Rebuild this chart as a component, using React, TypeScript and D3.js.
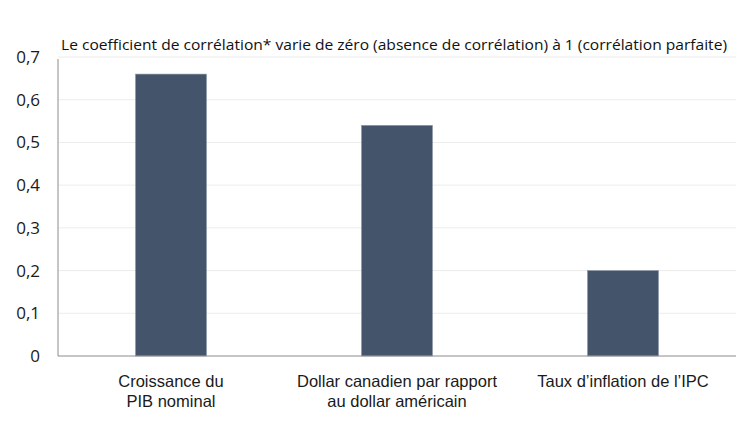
import {useEffect, useRef} from "react";
import * as d3 from "d3";

const categories = [
    ["Croissance du", "PIB nominal"],
    ["Dollar canadien par rapport", "au dollar américain"],
    ["Taux d’inflation de l’IPC"],
]
const values = [0.66, 0.54, 0.2]
const yTicks = [0, 0.1, 0.2, 0.3, 0.4, 0.5, 0.6, 0.7]
const title = "Le coefficient de corrélation* varie de zéro (absence de corrélation) à 1 (corrélation parfaite)"

const W = 750
const H = 422
const margin = {top: 57, right: 14, bottom: 66, left: 58}
const font = "Open Sans, sans-serif"
const catFont = "Liberation Sans, Arial, sans-serif"

const App = () => {
    const svgRef = useRef<SVGSVGElement>(null)

    useEffect(() => {
        const svg = d3.select(svgRef.current)
        svg.selectAll("*").remove()

        const x = d3.scaleBand<number>()
            .domain(values.map((d, i) => i))
            .range([margin.left, W - margin.right])
            .paddingInner(0.686)
            .paddingOuter(0.343)

        const y = d3.scaleLinear()
            .domain([0, 0.7])
            .range([H - margin.bottom, margin.top])

        // grid
        svg.append("g")
            .selectAll("line")
            .data(yTicks.filter(d => d > 0))
            .join("line")
            .attr("x1", margin.left)
            .attr("x2", W - margin.right)
            .attr("y1", d => y(d))
            .attr("y2", d => y(d))
            .attr("stroke", "#ececec")
            .attr("stroke-width", 1)

        // y tick labels
        svg.append("g")
            .selectAll("text")
            .data(yTicks)
            .join("text")
            .attr("x", 40)
            .attr("y", d => y(d))
            .attr("dy", "0.35em")
            .attr("text-anchor", "end")
            .attr("font-family", font)
            .attr("font-size", 17)
            .attr("fill", "#1a1a1a")
            .text(d => d === 0 ? "0" : d3.format(".1f")(d).replace(".", ","))

        // bars
        svg.append("g")
            .selectAll("rect")
            .data(values)
            .join("rect")
            .attr("x", (d, i) => x(i)!)
            .attr("width", x.bandwidth())
            .attr("y", d => y(d))
            .attr("height", d => y(0) - y(d))
            .attr("fill", "#44546a")
            .attr("stroke", "#8a96a6")
            .attr("stroke-width", 0.6)

        // axes lines
        svg.append("line")
            .attr("x1", margin.left).attr("x2", margin.left)
            .attr("y1", y(0.7) + 2).attr("y2", y(0))
            .attr("stroke", "#8c8c8c")
        svg.append("line")
            .attr("x1", margin.left).attr("x2", W - margin.right)
            .attr("y1", y(0)).attr("y2", y(0))
            .attr("stroke", "#8c8c8c")

        // category labels, one text per line
        const lines = categories.flatMap((c, i) => c.map((t, j) => ({i, j, t})))
        svg.append("g")
            .selectAll("text")
            .data(lines)
            .join("text")
            .attr("x", d => x(d.i)! + x.bandwidth() / 2)
            .attr("y", d => 387 + d.j * 20)
            .attr("text-anchor", "middle")
            .attr("font-family", catFont)
            .attr("font-size", 16.5)
            .attr("fill", "#1a1a1a")
            .text(d => d.t)

        // title
        svg.append("text")
            .attr("x", 61)
            .attr("y", 50)
            .attr("font-family", font)
            .attr("font-size", 14.5)
            .attr("textLength", 666)
            .attr("lengthAdjust", "spacingAndGlyphs")
            .attr("fill", "#111")
            .text(title)
    }, [])

    return (
        <svg ref={svgRef} width={W} height={H}
             style={{position: "absolute", left: 0, top: 0, background: "#fff"}}/>
    )
}

export default App
